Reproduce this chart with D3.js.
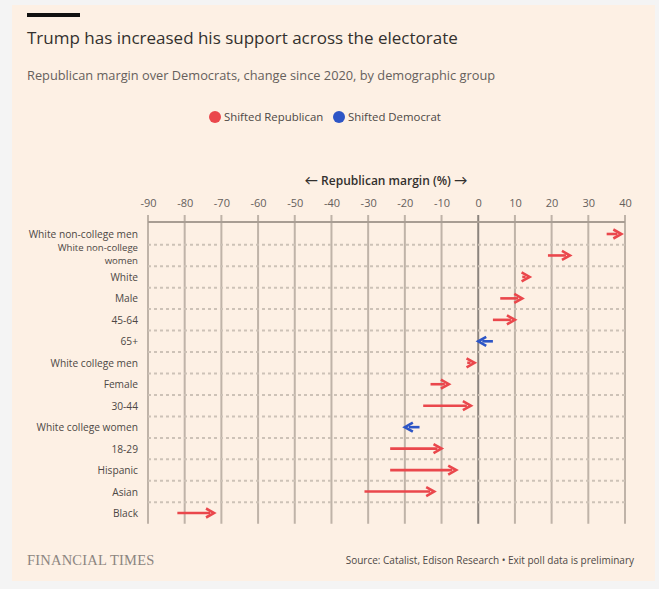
<!DOCTYPE html>
<html><head><meta charset="utf-8">
<script src="https://cdn.jsdelivr.net/npm/d3@7"></script>
<style>
html,body{margin:0;padding:0;background:#f4f4f4;}
svg{display:block;}
</style></head>
<body>
<script>
const categories = ["White non-college men","White non-college women","White","Male","45-64","65+","White college men","Female","30-44","White college women","18-29","Hispanic","Asian","Black"];
const margin2020 = [35, 19, 12, 6, 4, 4, -3, -13, -15, -16, -24, -24, -31, -82];
const margin2024 = [39, 25, 14, 12, 10, 0, -1, -8, -2, -20, -10, -6, -12, -72];
const tickValues = [-90,-80,-70,-60,-50,-40,-30,-20,-10,0,10,20,30,40];
const legendLabels = ["Shifted Republican","Shifted Democrat"];

const W = 659, H = 589;
const RED = "#ea474c", BLUE = "#2d55c6";
const SANS = "'Open Sans',sans-serif";
const svg = d3.select("body").append("svg").attr("width", W).attr("height", H)
  .style("font-family", SANS);

svg.append("rect").attr("x",12).attr("y",5).attr("width",643).attr("height",576).attr("fill","#fdf0e4");
svg.append("rect").attr("x",27).attr("y",13).attr("width",53).attr("height",4).attr("fill","#111");

svg.append("text").attr("x",27).attr("y",44).attr("font-size",17).attr("fill","#33302e")
  .text("Trump has increased his support across the electorate");
svg.append("text").attr("x",27).attr("y",80).attr("font-size",12.8).attr("fill","#66605c")
  .text("Republican margin over Democrats, change since 2020, by demographic group");

// legend
const legX = [215, 339];
[RED, BLUE].forEach((c,i)=>{
  svg.append("circle").attr("cx",legX[i]).attr("cy",117).attr("r",6).attr("fill",c);
  svg.append("text").attr("x",legX[i]+9).attr("y",121).attr("font-size",11.4).attr("fill","#4d4845").text(legendLabels[i]);
});

const x = d3.scaleLinear().domain([-90,40]).range([148,625]);
const y = d3.scalePoint().domain(categories).range([234,513]);
const step = y.step();
const gridTop = 215, gridBottom = 513 + step/2;

// axis title
const at = svg.append("text").attr("x",386).attr("y",185).attr("text-anchor","middle")
  .attr("font-size",12).attr("font-weight",600).attr("fill","#33302e");
at.append("tspan").style("font-family","Lato,sans-serif").attr("font-size",13.5).text("\u2190");
at.append("tspan").text(" Republican margin (%) ");
at.append("tspan").style("font-family","Lato,sans-serif").attr("font-size",13.5).text("\u2192");

// top axis
const axis = d3.axisTop(x).tickValues(tickValues).tickSize(0).tickPadding(0).tickFormat(d=>d);
const gAxis = svg.append("g").attr("transform",`translate(0,207)`).call(axis);
gAxis.select(".domain").remove();
gAxis.selectAll("text").attr("font-size",11).attr("fill","#66605c").attr("font-family",SANS).attr("dy",0);

// vertical gridlines
svg.append("g").selectAll("line").data(tickValues).join("line")
  .attr("x1",d=>x(d)).attr("x2",d=>x(d)).attr("y1",gridTop).attr("y2",gridBottom)
  .attr("stroke",d=>d===0?"#8c847e":"#bfb3a8").attr("stroke-width",2);
// axis line
svg.append("line").attr("x1",x(-90)).attr("x2",x(40)).attr("y1",222).attr("y2",222)
  .attr("stroke","#a89d93").attr("stroke-width",2);

// dashed separators
const seps = categories.slice(0,-1).map((c,i)=>(y(c)+y(categories[i+1]))/2);
svg.append("g").selectAll("line").data(seps).join("line")
  .attr("x1",x(-90)).attr("x2",x(40)).attr("y1",d=>d).attr("y2",d=>d)
  .attr("stroke","#cdc2b7").attr("stroke-width",2).attr("stroke-dasharray","3,3");

// row labels
const lab = svg.append("g").attr("font-size",10.2).attr("fill","#4d4845").attr("text-anchor","end");
categories.forEach(c=>{
  if (c === "White non-college women") {
    lab.append("text").attr("x",138).attr("y", y(c)-4.5).attr("font-size",9.6).text("White non-college");
    lab.append("text").attr("x",138).attr("y", y(c)+8.5).attr("font-size",9.6).text("women");
  } else {
    lab.append("text").attr("x",138).attr("y", y(c)+4).text(c);
  }
});

// arrows
const data = categories.map((c,i)=>({c, a:margin2020[i], b:margin2024[i]}));
const g = svg.append("g");
data.forEach(d=>{
  const col = d.b >= d.a ? RED : BLUE;
  const dir = d.b >= d.a ? 1 : -1;
  const yy = y(d.c);
  const x0 = x(d.a), x1 = x(d.b);
  const head = 8;
  const lineEnd = x1 - dir*4;
  if (Math.abs(lineEnd - x0) > 1 && (lineEnd - x0)*dir > 0) {
    g.append("line").attr("x1",x0).attr("x2",lineEnd).attr("y1",yy).attr("y2",yy)
      .attr("stroke",col).attr("stroke-width",2.6);
  }
  g.append("path")
    .attr("d",`M${x1-dir*head},${yy-4.5} L${x1},${yy} L${x1-dir*head},${yy+4.5}`)
    .attr("fill","none").attr("stroke",col).attr("stroke-width",2.6).attr("stroke-linejoin","miter");
});

// footer
svg.append("text").attr("x",27).attr("y",565).style("font-family","'Liberation Serif',serif")
  .attr("font-size",14.5).attr("letter-spacing",0.2).attr("fill","#8c8580").text("FINANCIAL TIMES");
svg.append("text").attr("x",634).attr("y",564).attr("text-anchor","end").attr("font-size",10).attr("fill","#4d4845")
  .text("Source: Catalist, Edison Research \u2022 Exit poll data is preliminary");
</script>
</body></html>
